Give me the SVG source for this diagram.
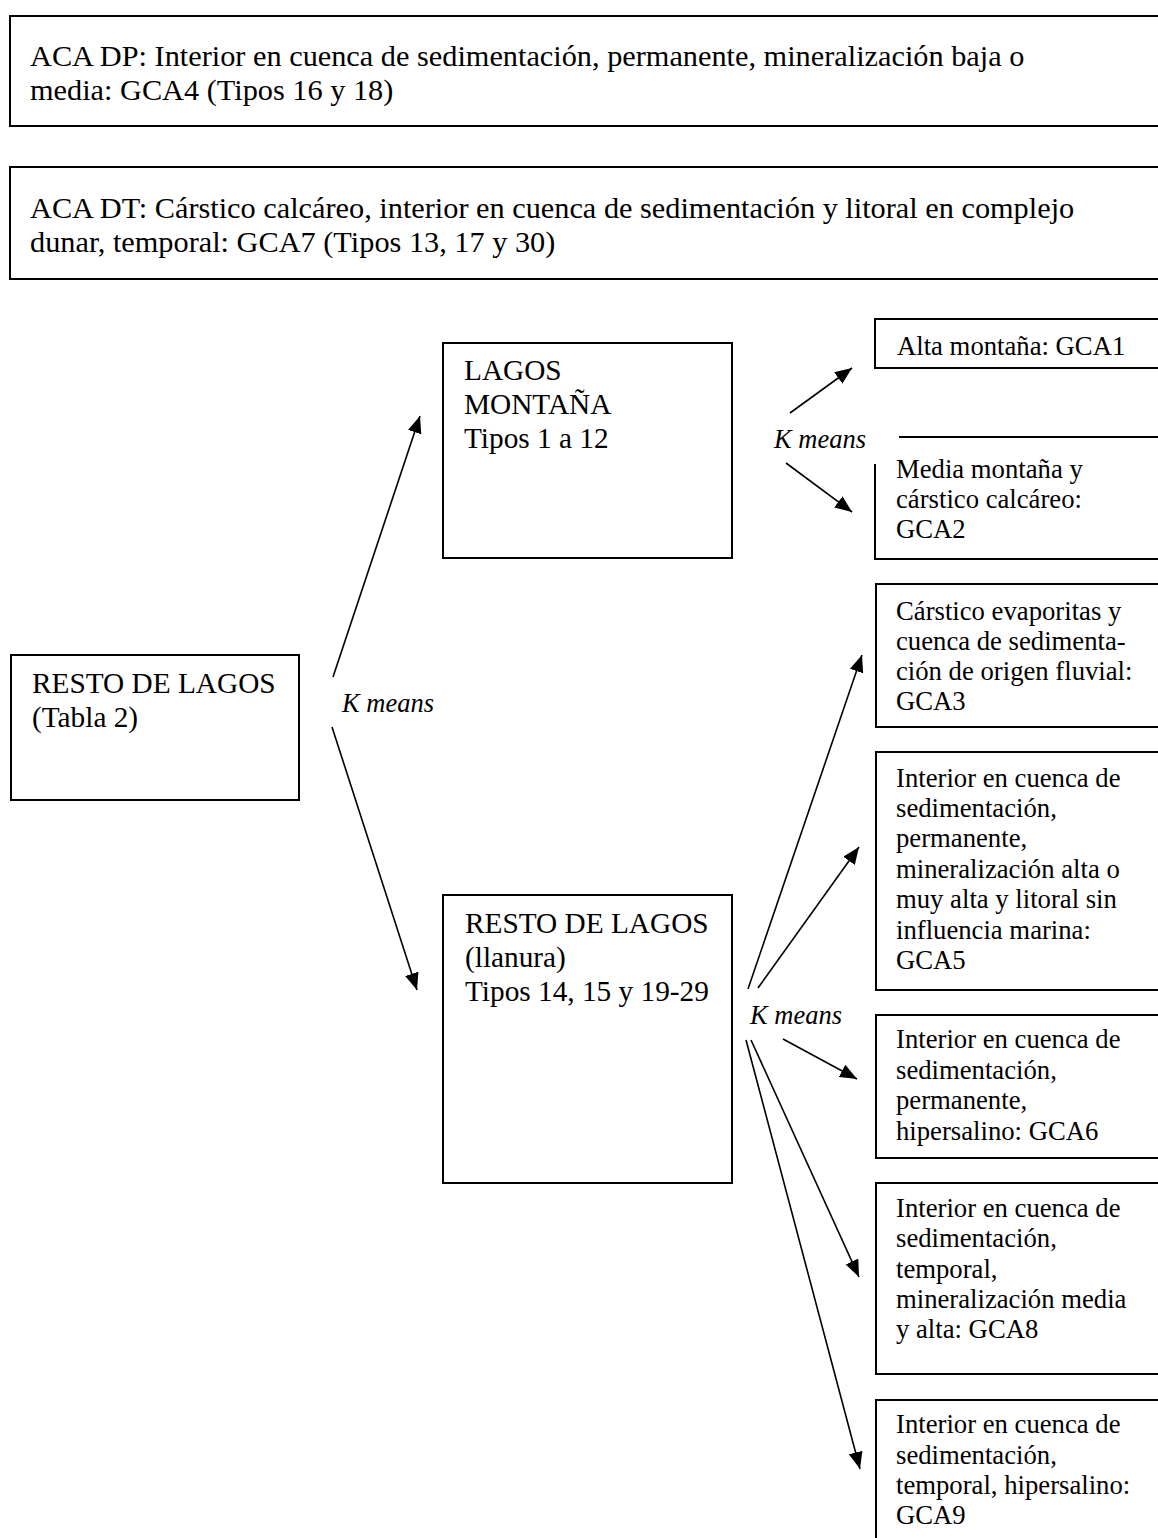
<svg xmlns="http://www.w3.org/2000/svg" width="1158" height="1538" viewBox="0 0 1158 1538">
<defs>
<marker id="ah" markerUnits="userSpaceOnUse" markerWidth="17" markerHeight="14" refX="17" refY="7" orient="auto">
<path d="M0,0 L17,7 L0,14 z" fill="#000"/>
</marker>
<style>
.box{fill:none;stroke:#000;stroke-width:2}
.t{font-family:"Liberation Serif","Times New Roman",serif;font-size:29.3px;fill:#000}
.h{font-family:"Liberation Serif","Times New Roman",serif;font-size:30.3px;fill:#000}
.s{font-family:"Liberation Serif","Times New Roman",serif;font-size:26.7px;fill:#000}
.k{font-family:"Liberation Serif","Times New Roman",serif;font-size:26.5px;font-style:italic;fill:#000}
.c line{stroke:#000;stroke-width:1.6;marker-end:url(#ah)}
</style>
</defs>
<rect width="1158" height="1538" fill="#fff"/>

<g id="aca-dp">
<path class="box" d="M1160,16 H10 V126 H1160"/>
<text class="h" x="30" y="66">ACA DP: Interior en cuenca de sedimentación, permanente, mineralización baja o</text>
<text class="h" x="30" y="100">media: GCA4 (Tipos 16 y 18)</text>
</g>

<g id="aca-dt">
<path class="box" d="M1160,167 H10 V279 H1160"/>
<text class="h" x="30" y="218">ACA DT: Cárstico calcáreo, interior en cuenca de sedimentación y litoral en complejo</text>
<text class="h" x="30" y="252">dunar, temporal: GCA7 (Tipos 13, 17 y 30)</text>
</g>

<g id="resto-tabla2">
<rect class="box" x="11" y="655" width="288" height="145"/>
<text class="t" x="32" y="693">RESTO DE LAGOS</text>
<text class="t" x="32" y="727">(Tabla 2)</text>
</g>

<g id="lagos-montana">
<rect class="box" x="443" y="343" width="289" height="215"/>
<text class="t" x="464" y="380">LAGOS</text>
<text class="t" x="464" y="414">MONTAÑA</text>
<text class="t" x="464" y="448">Tipos 1 a 12</text>
</g>

<g id="resto-llanura">
<rect class="box" x="443" y="895" width="289" height="288"/>
<text class="t" x="465" y="933">RESTO DE LAGOS</text>
<text class="t" x="465" y="967">(llanura)</text>
<text class="t" x="465" y="1001">Tipos 14, 15 y 19-29</text>
</g>

<g id="gca1">
<path class="box" d="M1160,319 H875 V368 H1160"/>
<text class="s" x="897" y="355">Alta montaña: GCA1</text>
</g>

<g id="gca2">
<path class="box" d="M899,437 H1160 M875,464 V559 H1160"/>
<text class="s" x="896" y="478">Media montaña y</text>
<text class="s" x="896" y="508">cárstico calcáreo:</text>
<text class="s" x="896" y="538">GCA2</text>
</g>

<g id="gca3">
<path class="box" d="M1160,584 H876 V727 H1160"/>
<text class="s" x="896" y="620">Cárstico evaporitas y</text>
<text class="s" x="896" y="650">cuenca de sedimenta-</text>
<text class="s" x="896" y="680">ción de origen fluvial:</text>
<text class="s" x="896" y="710">GCA3</text>
</g>

<g id="gca5">
<path class="box" d="M1160,752 H876 V990 H1160"/>
<text class="s" x="896" y="787">Interior en cuenca de</text>
<text class="s" x="896" y="817">sedimentación,</text>
<text class="s" x="896" y="847">permanente,</text>
<text class="s" x="896" y="878">mineralización alta o</text>
<text class="s" x="896" y="908">muy alta y litoral sin</text>
<text class="s" x="896" y="939">influencia marina:</text>
<text class="s" x="896" y="969">GCA5</text>
</g>

<g id="gca6">
<path class="box" d="M1160,1015 H876 V1158 H1160"/>
<text class="s" x="896" y="1048">Interior en cuenca de</text>
<text class="s" x="896" y="1079">sedimentación,</text>
<text class="s" x="896" y="1109">permanente,</text>
<text class="s" x="896" y="1140">hipersalino: GCA6</text>
</g>

<g id="gca8">
<path class="box" d="M1160,1183 H876 V1374 H1160"/>
<text class="s" x="896" y="1217">Interior en cuenca de</text>
<text class="s" x="896" y="1247">sedimentación,</text>
<text class="s" x="896" y="1278">temporal,</text>
<text class="s" x="896" y="1308">mineralización media</text>
<text class="s" x="896" y="1338">y alta: GCA8</text>
</g>

<g id="gca9">
<path class="box" d="M1160,1400 H876 V1540"/>
<text class="s" x="896" y="1433">Interior en cuenca de</text>
<text class="s" x="896" y="1464">sedimentación,</text>
<text class="s" x="896" y="1494">temporal, hipersalino:</text>
<text class="s" x="896" y="1524">GCA9</text>
</g>

<g id="connectors" class="c">
<line x1="333" y1="677" x2="420" y2="416"/>
<line x1="332" y1="727" x2="417" y2="990"/>
<line x1="790" y1="413" x2="852" y2="368"/>
<line x1="786" y1="463" x2="852" y2="512"/>
<line x1="748" y1="989" x2="862" y2="655"/>
<line x1="758" y1="988" x2="859" y2="847"/>
<line x1="783" y1="1039" x2="857" y2="1079"/>
<line x1="751" y1="1040" x2="859" y2="1277"/>
<line x1="746" y1="1040" x2="860" y2="1469"/>
</g>

<g id="labels">
<text class="k" x="342" y="712">K means</text>
<text class="k" x="774" y="448">K means</text>
<text class="k" x="750" y="1024">K means</text>
</g>
</svg>
